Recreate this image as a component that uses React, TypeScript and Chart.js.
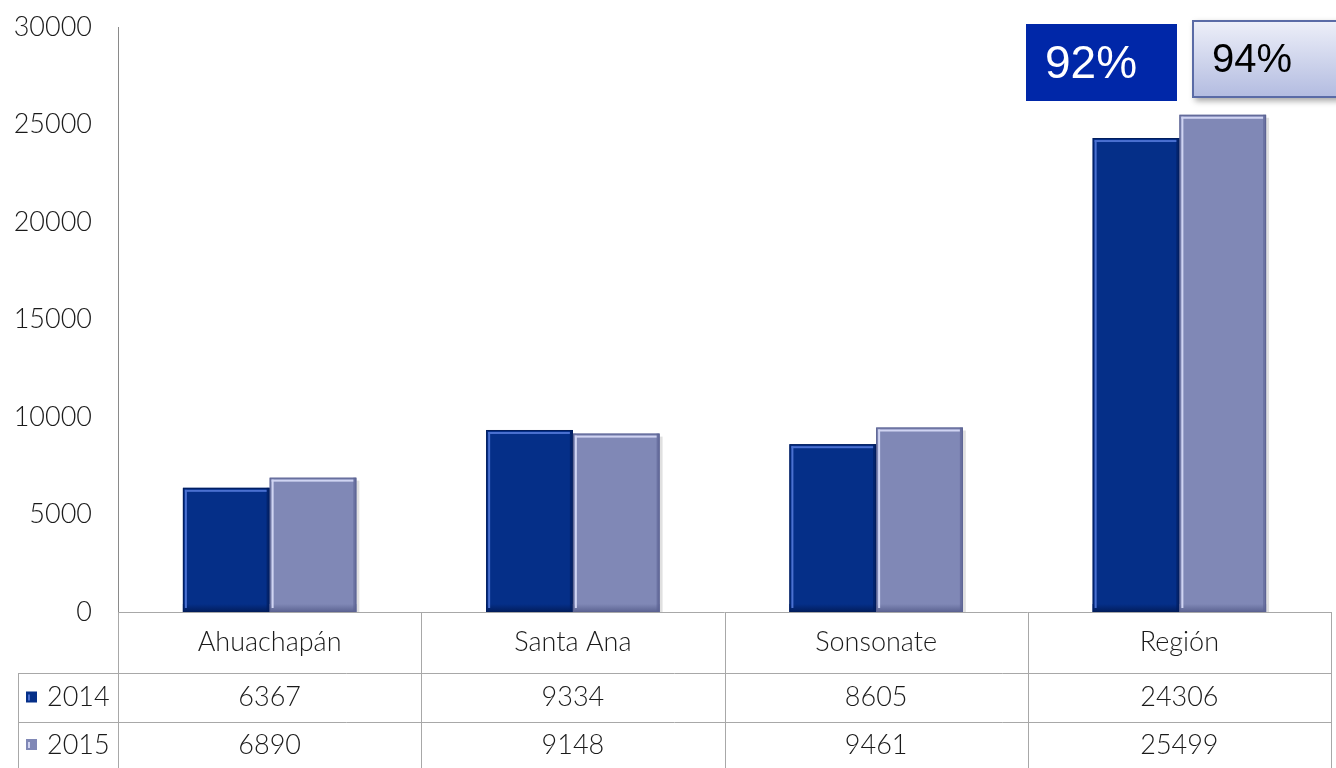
import React, { useEffect, useRef } from "react";
import { Chart, registerables } from "chart.js";

Chart.register(...registerables);

const categories = ["Ahuachapán", "Santa Ana", "Sonsonate", "Región"];
const seriesNames = ["2014", "2015"];
const values2014 = [6367, 9334, 8605, 24306];
const values2015 = [6890, 9148, 9461, 25499];
const yTicks = [0, 5000, 10000, 15000, 20000, 25000, 30000];
const badge2014 = "92%";
const badge2015 = "94%";

const FONT = "Lato, 'Open Sans', sans-serif";
const FONT_WEIGHT = "300";
const colors = {
  s2014: { base: "#052f88", light: "#4a70d0", dark: "#021d5c" },
  s2015: { base: "#8088b6", light: "#d0d4f2", dark: "#5c6392" },
};
const lineColor = "#a8a8a8";

const bevelPlugin = {
  id: "bevel",
  beforeDatasetsDraw(chart: any) {
    const ctx = chart.ctx;
    ctx.save();
    chart.data.datasets.forEach((_: any, di: number) => {
      const meta = chart.getDatasetMeta(di);
      meta.data.forEach((el: any) => {
        const left = el.x - el.width / 2;
        ctx.fillStyle = "rgba(0,0,0,0.12)";
        ctx.fillRect(left + 3, el.y + 3, el.width, el.base - el.y - 3);
      });
    });
    ctx.restore();
  },
  afterDatasetsDraw(chart: any) {
    const ctx = chart.ctx;
    ctx.save();
    chart.data.datasets.forEach((_: any, di: number) => {
      const meta = chart.getDatasetMeta(di);
      const c = di === 0 ? colors.s2014 : colors.s2015;
      meta.data.forEach((el: any) => {
        const left = el.x - el.width / 2;
        const right = el.x + el.width / 2;
        const top = el.y;
        const base = el.base;
        const h = base - top;
        const g = ctx.createLinearGradient(0, base - 8, 0, base);
        g.addColorStop(0, c.base);
        g.addColorStop(1, c.dark);
        ctx.fillStyle = g;
        ctx.fillRect(left, base - 8, el.width, 8);
        ctx.fillStyle = c.dark;
        ctx.globalAlpha = 0.6;
        ctx.fillRect(right - 3, top, 3, h);
        ctx.globalAlpha = 1;
        ctx.fillStyle = c.light;
        ctx.fillRect(left + 2, top + 2, el.width - 5, 2);
        ctx.fillRect(left + 2, top + 2, 2, h - 6);
        ctx.strokeStyle = c.dark;
        ctx.lineWidth = 1;
        ctx.strokeRect(left + 0.5, top + 0.5, el.width - 1, h - 1);
      });
    });
    ctx.restore();
  },
};

const tablePlugin = {
  id: "dataTable",
  afterDraw(chart: any) {
    const ctx = chart.ctx;
    const ca = chart.chartArea;
    const xs = chart.scales.x;
    const n = categories.length;
    const colW = (ca.right - ca.left) / n;
    const top = ca.bottom;
    const r1 = top + 61;
    const r2 = top + 110;
    const bottom = chart.height;
    const legendLeft = 18;
    ctx.save();
    ctx.strokeStyle = lineColor;
    ctx.lineWidth = 1;
    const hline = (x1: number, x2: number, y: number) => {
      ctx.beginPath();
      ctx.moveTo(x1, Math.round(y) + 0.5);
      ctx.lineTo(x2, Math.round(y) + 0.5);
      ctx.stroke();
    };
    const vline = (x: number, y1: number, y2: number) => {
      ctx.beginPath();
      ctx.moveTo(Math.round(x) + 0.5, y1);
      ctx.lineTo(Math.round(x) + 0.5, y2);
      ctx.stroke();
    };
    hline(ca.left, ca.right, top);
    hline(legendLeft, ca.right, r1);
    hline(legendLeft, ca.right, r2);
    vline(legendLeft, r1, bottom);
    for (let i = 0; i <= n; i++) vline(ca.left + i * colW, top, bottom);

    ctx.fillStyle = "#1a1a1a";
    ctx.font = `${FONT_WEIGHT} 27px ${FONT}`;
    ctx.textAlign = "center";
    ctx.textBaseline = "middle";
    const rows = [values2014, values2015];
    const rowY = [(r1 + r2) / 2, (r2 + bottom) / 2];
    categories.forEach((cat, i) => {
      const cx = xs.getPixelForValue(i);
      ctx.fillText(cat, cx, (top + r1) / 2);
      rows.forEach((vals, ri) => ctx.fillText(String(vals[i]), cx, rowY[ri]));
    });
    seriesNames.forEach((name, ri) => {
      const c = ri === 0 ? colors.s2014 : colors.s2015;
      const y = rowY[ri];
      ctx.fillStyle = c.base;
      ctx.fillRect(26, y - 6, 11, 11);
      ctx.fillStyle = c.light;
      ctx.fillRect(28, y - 3, 2, 6);
      ctx.fillStyle = "#1a1a1a";
      ctx.textAlign = "left";
      ctx.fillText(name, 47, y);
    });

    ctx.fillStyle = "#0027a8";
    ctx.fillRect(1026, 24, 151, 77);
    ctx.fillStyle = "#ffffff";
    ctx.font = "46px 'Liberation Sans', Arial, sans-serif";
    ctx.textAlign = "left";
    ctx.fillText(badge2014, 1045, 65);

    ctx.save();
    ctx.shadowColor = "rgba(0,0,0,0.35)";
    ctx.shadowBlur = 6;
    ctx.shadowOffsetX = 3;
    ctx.shadowOffsetY = 3;
    const gr = ctx.createLinearGradient(0, 20, 0, 98);
    gr.addColorStop(0, "#eef0f9");
    gr.addColorStop(1, "#b2bbe0");
    ctx.fillStyle = gr;
    ctx.fillRect(1192, 20, 150, 78);
    ctx.restore();
    ctx.strokeStyle = "#5a6ba6";
    ctx.lineWidth = 2;
    ctx.strokeRect(1193, 21, 150, 76);
    ctx.fillStyle = "#000000";
    ctx.font = "40px 'Liberation Sans', Arial, sans-serif";
    ctx.fillText(badge2015, 1212, 61);
    ctx.restore();
  },
};

export default function App() {
  const ref = useRef<HTMLCanvasElement | null>(null);
  useEffect(() => {
    if (!ref.current) return;
    const chart = new Chart(ref.current, {
      type: "bar",
      data: {
        labels: categories,
        datasets: [
          { label: seriesNames[0], data: values2014, backgroundColor: colors.s2014.base, borderWidth: 0 },
          { label: seriesNames[1], data: values2015, backgroundColor: colors.s2015.base, borderWidth: 0 },
        ],
      },
      options: {
        responsive: false,
        animation: false,
        layout: { padding: { top: 27, bottom: 156, right: 5, left: 0 } },
        plugins: { legend: { display: false }, tooltip: { enabled: false } },
        datasets: { bar: { categoryPercentage: 0.572, barPercentage: 1 } } as any,
        scales: {
          x: { display: false },
          y: {
            min: 0,
            max: 30000,
            afterFit: (s: any) => {
              s.width = 118;
              s.paddingTop = 0;
              s.paddingBottom = 0;
            },
            afterBuildTicks: (s: any) => {
              s.ticks = yTicks.map((v) => ({ value: v }));
            },
            grid: { display: false, drawTicks: false },
            border: { display: true, color: "#8a8a8a", width: 1 },
            ticks: {
              padding: 26,
              color: "#1a1a1a",
              font: { family: FONT, size: 27, weight: FONT_WEIGHT as any },
              callback: (v: any) => String(v),
            },
          },
        },
      },
      plugins: [bevelPlugin, tablePlugin],
    });
    return () => chart.destroy();
  }, []);
  return (
    <div style={{ position: "fixed", left: 0, top: 0, width: 1336, height: 768, background: "#fff" }}>
      <canvas ref={ref} width={1336} height={768} />
    </div>
  );
}
